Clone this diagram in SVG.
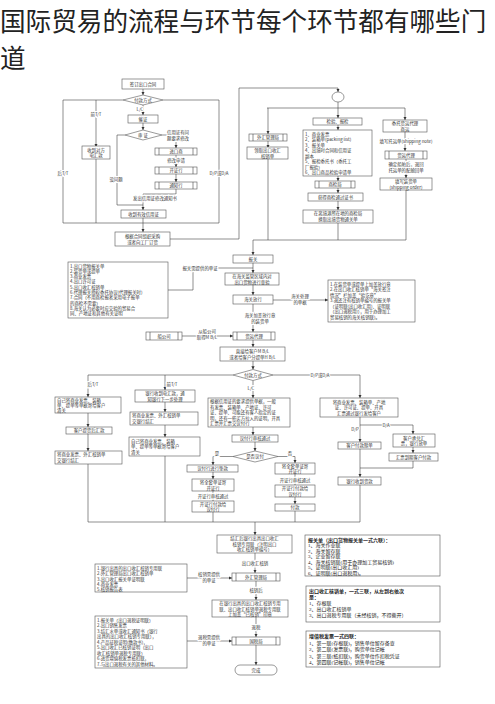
<svg xmlns="http://www.w3.org/2000/svg" width="495" height="704" viewBox="0 0 495 704">
<style>
.b{fill:#fff;stroke:#555;stroke-width:0.6}
.l{fill:none;stroke:#444;stroke-width:0.6}
.t{font-family:"Noto Sans CJK SC","Liberation Sans",sans-serif;font-size:4.4px;fill:#333;text-anchor:middle}
.s{text-anchor:start}
.lb{stroke:#fff;stroke-width:2px;paint-order:stroke}
.r{font-family:"Liberation Serif","Noto Sans CJK SC",serif;font-size:5px;fill:#222}
.h{font-weight:bold}
</style>
<defs>
<marker id="a" viewBox="0 0 6 6" refX="6" refY="3" markerWidth="3.2" markerHeight="3.2" markerUnits="userSpaceOnUse" orient="auto"><path d="M0,0L6,3L0,6z" fill="#333"/></marker>
</defs>
<rect width="495" height="704" fill="#fff"/>
<text x="0" y="31" font-family="Noto Sans CJK SC,sans-serif" font-size="25.6" fill="#222">国际贸易的流程与环节每个环节都有哪些门</text>
<text x="0" y="68" font-family="Noto Sans CJK SC,sans-serif" font-size="25.6" fill="#222">道</text>

<g id="connectors" class="l" marker-end="url(#a)">
<path d="M143,89V95"/>
<path d="M123,100H63V223H219V100H163" marker-end="none"/>
<path d="M96,100V147"/>
<path d="M96,158V223" marker-end="none"/>
<path d="M143,105V115"/>
<path d="M143,123V130"/>
<path d="M162,135H176V148"/>
<path d="M176,155V167"/>
<path d="M176,174V182"/>
<path d="M176,189V194H143V210"/>
<path d="M125,135H117V205H143" marker-end="none"/>
<path d="M143,218V232"/>
<path d="M170,239H239V88H338V92"/>
<path d="M338,102V108" marker-end="none"/>
<path d="M267,108H405" marker-end="none"/>
<path d="M268,108V134"/>
<path d="M338,108V118"/>
<path d="M405,108V120"/>
<path d="M268,141V148"/>
<path d="M268,159V240" marker-end="none"/>
<path d="M338,125V130"/>
<path d="M338,176V181"/>
<path d="M338,188V193"/>
<path d="M338,201V210"/>
<path d="M338,223V240" marker-end="none"/>
<path d="M405,132V151"/>
<path d="M406,159V178"/>
<path d="M406,190V240H253" marker-end="none"/>
<path d="M253,240V255"/>
<path d="M168,290H193V268H253" marker-end="none"/>
<path d="M253,263V273"/>
<path d="M253,285V295"/>
<path d="M273,300H328"/>
<path d="M253,304V332"/>
<path d="M182,336H233"/>
<path d="M253,340V347"/>
<path d="M253,361V369.5"/>
<path d="M233,375H88V397"/>
<path d="M165,375V390"/>
<path d="M273,375H360V398"/>
<path d="M253,380.5V398"/>
<path d="M88,413V427"/>
<path d="M88,434V451"/>
<path d="M165,402V412"/>
<path d="M165,425V437"/>
<path d="M253,427V435"/>
<path d="M255,442V451"/>
<path d="M233,456.5H213V465"/>
<path d="M278,456.5H295V463"/>
<path d="M213,472V479"/>
<path d="M213,491V501"/>
<path d="M295,474V485"/>
<path d="M295,497V504"/>
<path d="M360,417V442"/>
<path d="M360,425H413V434"/>
<path d="M413,447V453"/>
<path d="M413,461V468H360" marker-end="none"/>
<path d="M360,449V477"/>
<path d="M360,485V522H88V464" marker-end="none"/>
<path d="M165,456V522" marker-end="none"/>
<path d="M213,512V522" marker-end="none"/>
<path d="M295,511V522" marker-end="none"/>
<path d="M255,522V535"/>
<path d="M255,553V573"/>
<path d="M187,578H232"/>
<path d="M256,581V600"/>
<path d="M256,617V637"/>
<path d="M187,641H232"/>
<path d="M256,645V665"/>
</g>

<g id="labels" class="t lb">
<text x="140" y="111">L/C</text>
<text x="96" y="116">前T/T</text>
<text x="63" y="175">后T/T</text>
<text x="219" y="175">D/P或D/A</text>
<text x="178" y="134">信用证有问</text>
<text x="178" y="140">题要求修改</text>
<text x="176" y="162">修改申请</text>
<text x="155" y="200">发出信用证修改通知书</text>
<text x="116" y="181">没问题</text>
<text x="406" y="143">填写托运单(shipping note)</text>
<text x="406" y="166">确定船舶后，退回</text>
<text x="406" y="172">托运单的配舱回单</text>
<text x="200" y="269.5">报关需提供的单证</text>
<text x="300" y="298">海关处理</text>
<text x="300" y="304">的单据</text>
<text x="260" y="317">海关加盖放行章</text>
<text x="260" y="323">的装货单</text>
<text x="207" y="333">从船公司</text>
<text x="207" y="339">取得M B/L</text>
<text x="93" y="386">后T/T</text>
<text x="172" y="386">前T/T</text>
<text x="320" y="377">D/P或D/A</text>
<text x="251" y="390">L/C</text>
<text x="217" y="455">是</text>
<text x="290" y="455">否</text>
<text x="213" y="497.5">开证行审核通过</text>
<text x="295" y="481.5">开证行审核通过</text>
<text x="355" y="431">D/P</text>
<text x="386" y="426.5">D/A</text>
<text x="255" y="564.5">出口收汇核销</text>
<text x="209" y="576">核销需提供</text>
<text x="209" y="582">的单证</text>
<text x="256" y="591.5">核销后</text>
<text x="256" y="629">退税</text>
<text x="209" y="639">退税需提供</text>
<text x="209" y="645">的单证</text>
</g>

<g id="n1"><rect class="b" x="122" y="79" width="42" height="10"/><text class="t" x="143" y="86">签订出口合同</text></g>
<g id="d1"><polygon class="b" points="123,100 143,95 163,100 143,105"/><text class="t" x="143" y="101.8">付款方式</text></g>
<g id="n2"><rect class="b" x="128" y="115" width="30" height="8"/><text class="t" x="143" y="120.8">催证</text></g>
<g id="d2"><polygon class="b" points="125,135 143,130 162,135 143,140"/><text class="t" x="143" y="136.8">审 证</text></g>
<g id="n3"><rect class="b" x="155" y="148" width="42" height="7"/><path class="l" d="M159,148V155M193,148V155"/><text class="t" x="176" y="153.3">进口商</text></g>
<g id="n4"><rect class="b" x="155" y="167" width="42" height="7"/><path class="l" d="M159,167V174M193,167V174"/><text class="t" x="176" y="172.3">开证行</text></g>
<g id="n5"><rect class="b" x="155" y="182" width="42" height="7"/><path class="l" d="M159,182V189M193,182V189"/><text class="t" x="176" y="187.3">通知行</text></g>
<g id="n6"><rect class="b" x="121" y="210" width="45" height="8"/><text class="t" x="143.5" y="215.8">收到有效信用证</text></g>
<g id="n7"><rect class="b" x="82" y="146" width="28" height="13"/><text class="t" x="96" y="151.5">收到对方</text><text class="t" x="96" y="157">电汇款</text></g>
<g id="n8"><rect class="b" x="115" y="232" width="55" height="14"/><text class="t" x="142.5" y="238">根据合同组织采购</text><text class="t" x="142.5" y="244">或者向工厂订货</text></g>
<g id="c1"><ellipse class="b" cx="338" cy="97" rx="6" ry="5"/></g>
<g id="n9"><rect class="b" x="249" y="134" width="38" height="7"/><path class="l" d="M253,134V141M283,134V141"/><text class="t" x="268" y="139.3">外汇管理局</text></g>
<g id="n10"><rect class="b" x="247" y="147" width="41" height="12"/><text class="t" x="267.5" y="152">领取出口收汇</text><text class="t" x="267.5" y="157.5">核销单</text></g>
<g id="n11"><rect class="b" x="313" y="118" width="49" height="7"/><text class="t" x="337.5" y="123.3">检验、报检</text></g>
<g id="n12"><rect class="b" x="303" y="130" width="69" height="46"/>
<text class="t s" x="305" y="135.5">1、商业发票</text>
<text class="t s" x="305" y="141">2、装箱单(packing list)</text>
<text class="t s" x="305" y="146.5">3、报关单</text>
<text class="t s" x="305" y="152">4、出境时合同和信用证</text>
<text class="t s" x="305" y="157.5">副本</text>
<text class="t s" x="305" y="163">5、报检委托书（委托工</text>
<text class="t s" x="305" y="168.5">厂报验）</text>
<text class="t s" x="305" y="174">6、出口商品检验申请单</text></g>
<g id="n13"><rect class="b" x="315" y="181" width="40" height="7"/><path class="l" d="M319,181V188M351,181V188"/><text class="t" x="335" y="186.3">商检局</text></g>
<g id="n14"><rect class="b" x="308" y="193" width="55" height="8"/><text class="t" x="335.5" y="198.8">获得商检通过证书</text></g>
<g id="n15"><rect class="b" x="303" y="210" width="70" height="13"/><text class="t" x="338" y="215.3">在离境港所在地的商检局</text><text class="t" x="338" y="221.3">换取出境货物通关单</text></g>
<g id="n16"><rect class="b" x="383" y="120" width="44" height="12"/><text class="t" x="405" y="124.8">委托货运代理</text><text class="t" x="405" y="130.5">商运</text></g>
<g id="n17"><rect class="b" x="385" y="151" width="42" height="8"/><path class="l" d="M389,151V159M423,151V159"/><text class="t" x="406" y="156.8">货运代理</text></g>
<g id="n18"><rect class="b" x="380" y="178" width="52" height="12"/><text class="t" x="406" y="182.8">填写装货单</text><text class="t" x="406" y="188.5">(shipping order)</text></g>
<g id="n19"><rect class="b" x="233" y="255" width="40" height="8"/><text class="t" x="253" y="260.8">报关</text></g>
<g id="n20"><rect class="b" x="68" y="262" width="100" height="56"/>
<text class="t s" x="70" y="267.5">1.出口货物报关单</text>
<text class="t s" x="70" y="272.8">2.装货单或提单</text>
<text class="t s" x="70" y="278.1">3.商业发票</text>
<text class="t s" x="70" y="283.4">4.出口许可证</text>
<text class="t s" x="70" y="288.7">5.出口收汇核销单</text>
<text class="t s" x="70" y="294">6.代理报关授权委托协议(代理报关时)</text>
<text class="t s" x="70" y="299.3">7.合同（不用商检报者采用电子报单</text>
<text class="t s" x="70" y="304.6">的商检不需要）</text>
<text class="t s" x="70" y="309.9">8.海关认为必要时应交验的贸易合</text>
<text class="t s" x="70" y="315.2">同、产地证和其他有关证明</text></g>
<g id="n21"><rect class="b" x="225" y="273" width="54" height="12"/><text class="t" x="252" y="278">在海关监管区域内对</text><text class="t" x="252" y="283.5">出口货物进行查验</text></g>
<g id="n22"><rect class="b" x="233" y="295" width="40" height="9"/><text class="t" x="253" y="301.3">海关放行</text></g>
<g id="n23"><rect class="b" x="328" y="280" width="87" height="42"/>
<text class="t s" x="330" y="285.5">1.在装货单或提单上加盖放行章</text>
<text class="t s" x="330" y="291">2.在出口收汇核销单“海关签注</text>
<text class="t s" x="330" y="296.5">情况”栏加盖“验讫章”</text>
<text class="t s" x="330" y="302">3.退还注有核销单编号的报关单</text>
<text class="t s" x="330" y="307.5">（证明联(出口收汇用)、证明联</text>
<text class="t s" x="330" y="313">（出口退税用)），用于办理加工</text>
<text class="t s" x="330" y="318.5">贸易核销的海关核销联)。</text></g>
<g id="n24"><rect class="b" x="233" y="332" width="42" height="8"/><path class="l" d="M237,332V340M271,332V340"/><text class="t" x="254" y="337.8">货运代理</text></g>
<g id="n25"><rect class="b" x="146" y="332" width="36" height="8"/><path class="l" d="M150,332V340M178,332V340"/><text class="t" x="164" y="337.8">船公司</text></g>
<g id="n26"><rect class="b" x="220" y="347" width="65" height="14"/><text class="t" x="252.5" y="352.5">直接给客户M B/L</text><text class="t" x="252.5" y="358.5">或者给客户分提单H B/L</text></g>
<g id="d3"><polygon class="b" points="233,375 253,369.5 273,375 253,380.5"/><text class="t" x="253" y="376.6">付款方式</text></g>
<g id="n27"><rect class="b" x="55" y="397" width="66" height="16"/><text class="t s" x="57" y="401.8">自己将商业发票、装箱</text><text class="t s" x="57" y="406.9">单、提单等单据寄给客户</text><text class="t s" x="57" y="412">清关</text></g>
<g id="n28"><rect class="b" x="66" y="427" width="46" height="7"/><text class="t" x="89" y="432.3">客户提货后汇款</text></g>
<g id="n29"><rect class="b" x="55" y="451" width="67" height="13"/><text class="t s" x="57" y="456">将商业发票、外汇核销单</text><text class="t s" x="57" y="462">交银行结汇</text></g>
<g id="n30"><rect class="b" x="135" y="390" width="60" height="12"/><text class="t" x="165" y="395">银行收到电汇款，通</text><text class="t" x="165" y="400.5">知银行下一步处理</text></g>
<g id="n31"><rect class="b" x="130" y="412" width="68" height="13"/><text class="t s" x="132" y="417">将商业发票、外汇核销单</text><text class="t s" x="132" y="423">交银行结汇</text></g>
<g id="n32"><rect class="b" x="129" y="437" width="71" height="19"/><text class="t s" x="131" y="442.5">自己将商业发票、装箱</text><text class="t s" x="131" y="448">单、提单等单据寄给客户</text><text class="t s" x="131" y="453.5">清关</text></g>
<g id="n33"><rect class="b" x="208" y="398" width="82" height="29"/>
<text class="t s" x="210" y="403">根据信用证的要求提供单据，一般</text>
<text class="t s" x="210" y="408.5">有发票、装箱单、产地证、许可</text>
<text class="t s" x="210" y="414">证、提单、可能还有客人指定的证</text>
<text class="t s" x="210" y="419.5">明，还有一些买方拉入的证明，开具</text>
<text class="t s" x="210" y="425">汇票并汇票交议付行</text></g>
<g id="n34"><rect class="b" x="232" y="435" width="46" height="7"/><text class="t" x="255" y="440.3">议付行审核通过</text></g>
<g id="d4"><polygon class="b" points="233,456.5 255,451 278,456.5 255,462"/><text class="t" x="255" y="458.2">是否议付</text></g>
<g id="n35"><rect class="b" x="187" y="465" width="51" height="7"/><text class="t" x="212.5" y="470.3">议付行进行垫款</text></g>
<g id="n36"><rect class="b" x="192" y="479" width="42" height="12"/><text class="t" x="213" y="484">将全套单证寄</text><text class="t" x="213" y="489.5">开证行</text></g>
<g id="n37"><rect class="b" x="192" y="501" width="42" height="11"/><text class="t" x="213" y="505.5">开证行付款给</text><text class="t" x="213" y="511">议付行</text></g>
<g id="n38"><rect class="b" x="275" y="463" width="40" height="11"/><text class="t" x="295" y="467.5">将全套单证寄</text><text class="t" x="295" y="473">开证行</text></g>
<g id="n39"><rect class="b" x="275" y="485" width="40" height="12"/><text class="t" x="295" y="490">开证行付款给</text><text class="t" x="295" y="495.5">议付行</text></g>
<g id="n40"><rect class="b" x="275" y="504" width="40" height="7"/><text class="t" x="295" y="509.3">付款</text></g>
<g id="n41"><rect class="b" x="320" y="398" width="78" height="19"/><text class="t" x="359" y="403.5">将商业发票、装箱单、产地</text><text class="t" x="359" y="409">证、许可证、提单、开具</text><text class="t" x="359" y="414.5">汇票通过银行发给客户</text></g>
<g id="n42"><rect class="b" x="393" y="434" width="42" height="13"/><text class="t" x="414" y="439.5">客户承兑汇</text><text class="t" x="414" y="445">票，银行放单</text></g>
<g id="n43"><rect class="b" x="338" y="442" width="43" height="7"/><text class="t" x="359.5" y="447.3">客户付款赎单</text></g>
<g id="n44"><rect class="b" x="389" y="453" width="49" height="8"/><text class="t" x="413.5" y="458.8">汇票到期客户付款</text></g>
<g id="n45"><rect class="b" x="338" y="477" width="43" height="8"/><text class="t" x="359.5" y="482.8">银行收到货款</text></g>
<g id="n46"><rect class="b" x="217" y="535" width="75" height="18"/><text class="t" x="254.5" y="540">结汇后银行出具出口收汇</text><text class="t" x="254.5" y="545.5">核销专用联（注明出口</text><text class="t" x="254.5" y="551">收汇核销单编号）</text></g>
<g id="n47"><rect class="b" x="232" y="573" width="48" height="8"/><path class="l" d="M236,573V581M276,573V581"/><text class="t" x="256" y="578.8">外汇管理局</text></g>
<g id="n48"><rect class="b" x="95" y="564" width="92" height="28"/>
<text class="t s" x="97" y="569.5">1.银行出具的出口收汇核销专用联</text>
<text class="t s" x="97" y="575">2.外汇管理局出口收汇核销单</text>
<text class="t s" x="97" y="580.5">3.出口收汇报关单证明联</text>
<text class="t s" x="97" y="586">4.商业发票</text>
<text class="t s" x="97" y="591">5.核销报告表</text></g>
<g id="n49"><rect class="b" x="212" y="600" width="76" height="17"/><text class="t" x="250" y="605">在银行出具的出口收汇核销专用</text><text class="t" x="250" y="610.5">联、出口收汇核销单退税专用联</text><text class="t" x="250" y="616">上加盖“已核销”印章</text></g>
<g id="n50"><rect class="b" x="232" y="637" width="48" height="8"/><path class="l" d="M236,637V645M276,637V645"/><text class="t" x="256" y="642.8">国税局</text></g>
<g id="n51"><rect class="b" x="95" y="616" width="92" height="52"/>
<text class="t s" x="97" y="621.5">1.报关单（出口退税证明联）</text>
<text class="t s" x="97" y="627">2.出口销售发票</text>
<text class="t s" x="97" y="632.5">3.结汇水单或收汇通知书（银行</text>
<text class="t s" x="97" y="638">出具的出口收汇核销专用联），</text>
<text class="t s" x="97" y="643.5">4.产品征税证明(缴款书)，</text>
<text class="t s" x="97" y="649">5.出口收汇已核销证明（出口</text>
<text class="t s" x="97" y="654.5">收汇核销单退税专用联）</text>
<text class="t s" x="97" y="660">6.进货增值税发票抵扣联，</text>
<text class="t s" x="97" y="665.5">7.与出口退税有关的其他材料。</text></g>
<g id="n52"><rect class="b" x="235" y="665" width="42" height="10" rx="5"/><text class="t" x="256" y="671.6">完成</text></g>

<g id="i1"><rect class="b" x="305" y="535" width="135" height="41"/>
<text class="r h" x="308" y="541.5">报关单（出口货物报关单一式六联）：</text>
<text class="r" x="308" y="547">1、海关作业联</text>
<text class="r" x="308" y="552.5">2、海关留存联</text>
<text class="r" x="308" y="558">3、企业留存联</text>
<text class="r" x="308" y="563.5">4、海关核销联(用于办理加工贸易核销)</text>
<text class="r" x="308" y="569">5、证明联(出口收汇用)</text>
<text class="r" x="308" y="574.5">6、证明联(出口退税用)。</text></g>
<g id="i2"><rect class="b" x="306" y="586" width="134" height="36"/>
<text class="r h" x="309" y="592.5">出口收汇核销单，一式三联，从左到右依次</text>
<text class="r h" x="309" y="598.5">是：</text>
<text class="r" x="309" y="604.5">1、存根联</text>
<text class="r" x="309" y="610.5">2、出口收汇核销单</text>
<text class="r" x="309" y="616.5">3、出口退税专用联（未经核销，不得撕开）</text></g>
<g id="i3"><rect class="b" x="306" y="631" width="134" height="36"/>
<text class="r h" x="309" y="638">增值税发票一式四联：</text>
<text class="r" x="309" y="644.5">1、第一联(存根联)，销售单位留存备查</text>
<text class="r" x="309" y="651">2、第二联(发票联)，购货单位记帐</text>
<text class="r" x="309" y="657.5">3、第三联(抵扣联)，购货单位作扣税凭证</text>
<text class="r" x="309" y="664">4、第四联(记帐联)，销售单位记帐</text></g>
</svg>
